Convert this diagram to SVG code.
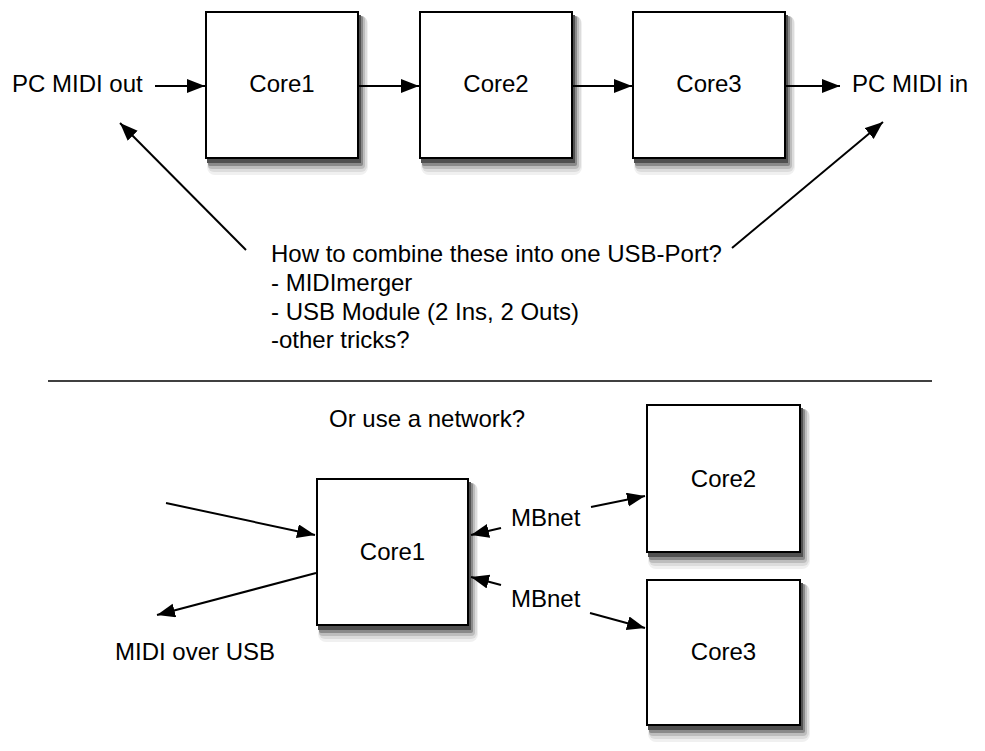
<svg xmlns="http://www.w3.org/2000/svg" width="985" height="751" viewBox="0 0 985 751">
<style>
  text { font-family: "Liberation Sans", Arial, Helvetica, sans-serif; font-size: 24px; fill: #000; }
  .box { fill: #fff; stroke: #000; stroke-width: 2; }
  .c { text-anchor: middle; }
  .conn line { stroke: #000; stroke-width: 2; marker-end: url(#ah); }
  .s1 { fill: #f0f0f0; }
  .s2 { fill: #dcdcdc; }
  .s3 { fill: #bdbdbd; }
  .s4 { fill: #8a8a8a; }
  .s5 { fill: #505050; }
</style>
<defs>
  <marker id="ah" markerUnits="userSpaceOnUse" markerWidth="20" markerHeight="16" refX="18" refY="7" orient="auto">
    <path d="M0,0 L18,7 L0,14 z" fill="#000"/>
  </marker>
</defs>
<rect width="985" height="751" fill="#fff"/>

<g id="pc-midi-out"><text x="12" y="92">PC MIDI out</text></g>
<g id="top-core1">
  <rect class="s1" x="207" y="16" width="161" height="159" rx="8"/>
  <rect class="s2" x="208" y="16" width="159" height="156" rx="6"/>
  <rect class="s3" x="208" y="16" width="157" height="153" rx="4"/>
  <rect class="s4" x="208" y="16" width="155" height="150" rx="2"/>
  <rect class="s5" x="207" y="15" width="154" height="148"/>
  <rect class="box" x="206" y="12" width="152" height="146"/><text class="c" x="282" y="92">Core1</text></g>
<g id="top-core2">
  <rect class="s1" x="421" y="16" width="161" height="159" rx="8"/>
  <rect class="s2" x="422" y="16" width="159" height="156" rx="6"/>
  <rect class="s3" x="422" y="16" width="157" height="153" rx="4"/>
  <rect class="s4" x="422" y="16" width="155" height="150" rx="2"/>
  <rect class="s5" x="421" y="15" width="154" height="148"/>
  <rect class="box" x="420" y="12" width="152" height="146"/><text class="c" x="496" y="92">Core2</text></g>
<g id="top-core3">
  <rect class="s1" x="634" y="16" width="161" height="159" rx="8"/>
  <rect class="s2" x="635" y="16" width="159" height="156" rx="6"/>
  <rect class="s3" x="635" y="16" width="157" height="153" rx="4"/>
  <rect class="s4" x="635" y="16" width="155" height="150" rx="2"/>
  <rect class="s5" x="634" y="15" width="154" height="148"/>
  <rect class="box" x="633" y="12" width="152" height="146"/><text class="c" x="709" y="92">Core3</text></g>
<g id="pc-midi-in"><text x="852" y="92">PC MIDI in</text></g>

<g id="question">
  <text x="271" y="262">How to combine these into one USB-Port?</text>
  <text x="271" y="291">- MIDImerger</text>
  <text x="271" y="320">- USB Module (2 Ins, 2 Outs)</text>
  <text x="271" y="348">-other tricks?</text>
</g>

<g id="divider"><line x1="48" y1="381" x2="932" y2="381" stroke="#000" stroke-width="1.5"/></g>

<g id="network-question"><text x="329" y="427">Or use a network?</text></g>

<g id="bottom-core1">
  <rect class="s1" x="318" y="483" width="160" height="159" rx="8"/>
  <rect class="s2" x="319" y="483" width="158" height="156" rx="6"/>
  <rect class="s3" x="319" y="483" width="156" height="153" rx="4"/>
  <rect class="s4" x="319" y="483" width="154" height="150" rx="2"/>
  <rect class="s5" x="318" y="482" width="153" height="148"/>
  <rect class="box" x="317" y="479" width="151" height="146"/><text class="c" x="392.5" y="560">Core1</text></g>
<g id="bottom-core2">
  <rect class="s1" x="648" y="409" width="162" height="160" rx="8"/>
  <rect class="s2" x="649" y="409" width="160" height="157" rx="6"/>
  <rect class="s3" x="649" y="409" width="158" height="154" rx="4"/>
  <rect class="s4" x="649" y="409" width="156" height="151" rx="2"/>
  <rect class="s5" x="648" y="408" width="155" height="149"/>
  <rect class="box" x="647" y="405" width="153" height="147"/><text class="c" x="723.5" y="487">Core2</text></g>
<g id="bottom-core3">
  <rect class="s1" x="648" y="584" width="162" height="158" rx="8"/>
  <rect class="s2" x="649" y="584" width="160" height="155" rx="6"/>
  <rect class="s3" x="649" y="584" width="158" height="152" rx="4"/>
  <rect class="s4" x="649" y="584" width="156" height="149" rx="2"/>
  <rect class="s5" x="648" y="583" width="155" height="147"/>
  <rect class="box" x="647" y="580" width="153" height="145"/><text class="c" x="723.5" y="660">Core3</text></g>
<g id="midi-over-usb"><text x="115" y="660">MIDI over USB</text></g>
<g id="mbnet1"><text x="511" y="526">MBnet</text></g>
<g id="mbnet2"><text x="511" y="607">MBnet</text></g>

<g id="connectors" class="conn">
  <line x1="155" y1="86" x2="205" y2="86"/>
  <line x1="358" y1="86" x2="419" y2="86"/>
  <line x1="572" y1="86" x2="632" y2="86"/>
  <line x1="786" y1="86" x2="840" y2="86"/>
  <line x1="246" y1="250" x2="120" y2="123"/>
  <line x1="732" y1="248" x2="883" y2="122"/>
  <line x1="166" y1="503" x2="315" y2="535"/>
  <line x1="316" y1="573" x2="157" y2="615"/>
  <line x1="501" y1="528" x2="471" y2="535"/>
  <line x1="591" y1="507" x2="645" y2="496"/>
  <line x1="501" y1="585" x2="471" y2="577"/>
  <line x1="590" y1="613" x2="645" y2="628"/>
</g>
</svg>
